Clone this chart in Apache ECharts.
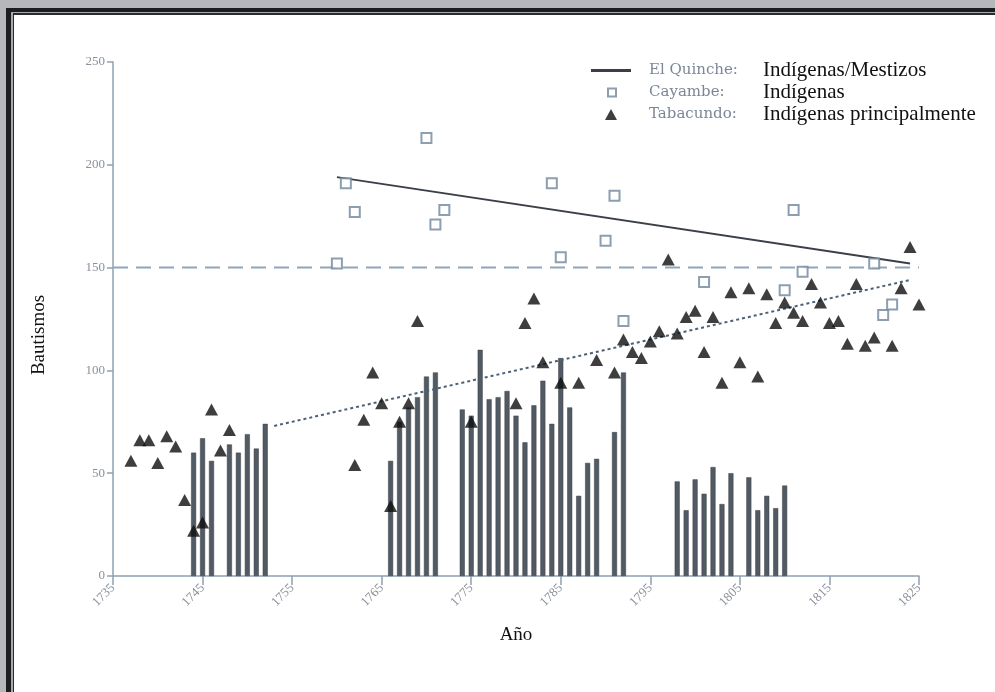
<!DOCTYPE html>
<html>
<head>
<meta charset="utf-8">
<script src="https://cdn.jsdelivr.net/npm/echarts@6/dist/echarts.min.js"></script>
<style>
html,body{margin:0;padding:0;background:#b6b7ba;}
#chart{width:995px;height:692px;}
</style>
</head>
<body>
<div id="chart"></div>
<script>
// ---- Data ----
const xTicks = [1735, 1745, 1755, 1765, 1775, 1785, 1795, 1805, 1815, 1825];
const yTicks = [0, 50, 100, 150, 200, 250];

// Bars (bautismos, series de barras)
const barYears  = [1744,1745,1746,1748,1749,1750,1751,1752,
                   1766,1767,1768,1769,1770,1771,
                   1774,1775,1776,1777,1778,1779,1780,1781,1782,1783,1784,1785,1786,1787,1788,1789,1791,1792,
                   1798,1799,1800,1801,1802,1803,1804,1806,1807,1808,1809,1810];
const barValues = [60,67,56,64,60,69,62,74,
                   56,75,82,87,97,99,
                   81,78,110,86,87,90,78,65,83,95,74,106,82,39,55,57,70,99,
                   46,32,47,40,53,35,50,48,32,39,33,44];

// Tabacundo (triángulos)
const tabYears  = [1737,1738,1739,1740,1741,1742,1743,1744,1745,1746,1747,1748,
                   1762,1763,1764,1765,1766,1767,1768,1769,
                   1775,1780,1781,1782,1783,1785,1787,1789,1791,1792,1793,1794,1795,1796,1797,
                   1798,1799,1800,1801,1802,1803,1804,1805,1806,1807,1808,1809,1810,1811,1812,
                   1813,1814,1815,1816,1817,1818,1819,1820,1822,1823,1824,1825];
const tabValues = [56,66,66,55,68,63,37,22,26,81,61,71,
                   54,76,99,84,34,75,84,124,
                   75,84,123,135,104,94,94,105,99,115,109,106,114,119,154,
                   118,126,129,109,126,94,138,104,140,97,137,123,133,128,124,
                   142,133,123,124,113,142,112,116,112,140,160,132];

// Cayambe (cuadrados)
const cayYears  = [1760,1761,1762,1770,1771,1772,1784,1785,1790,1791,1792,1801,1810,1811,1812,1820,1821,1822];
const cayValues = [152,191,177,213,171,178,191,155,163,185,124,143,139,178,148,152,127,132];

// El Quinche (línea de tendencia)
const quincheYears  = [1760, 1824];
const quincheValues = [194, 152];

// Tendencia Tabacundo (línea punteada)
const trendYears  = [1753, 1824];
const trendValues = [73, 144];

// Línea de referencia
const refYears = [1735, 1825];
const refValue = 150;

// Legend texts
const legendNames = ['El Quinche', 'Cayambe', 'Tabacundo'];
const legendTags  = ['El Quinche:', 'Cayambe:', 'Tabacundo:'];
const legendDesc  = ['Indígenas/Mestizos', 'Indígenas', 'Indígenas principalmente'];

const pair = (xs, ys) => xs.map((x, i) => [x, Array.isArray(ys) ? ys[i] : ys]);

const serif = "'Liberation Serif', 'DejaVu Serif', serif";
const wideSerif = "'DejaVu Serif', 'Liberation Serif', serif";

function makeLegend(idx, left, top, w, h, spacer, icon) {
  const lg = {
    orient: 'vertical',
    left: left,
    top: top,
    itemGap: 0,
    itemWidth: w,
    itemHeight: h,
    data: [legendNames[idx]],
    formatter: function () {
      return '{s|}{a|' + legendTags[idx] + '}{b|' + legendDesc[idx] + '}';
    },
    textStyle: {
      rich: {
        s: {width: spacer, lineHeight: 23},
        a: {fontFamily: wideSerif, fontSize: 15, color: '#7b8797', width: 114, lineHeight: 23},
        b: {fontFamily: serif, fontSize: 21, color: '#111111', lineHeight: 23}
      }
    }
  };
  if (icon) lg.icon = icon;
  return lg;
}

const chart = echarts.init(document.getElementById('chart'), null, {renderer: 'canvas'});
chart.setOption({
  backgroundColor: '#b6b7ba',
  animation: false,
  graphic: [
    {type: 'rect', z: -10, silent: true, shape: {x: 6, y: 8, width: 1200, height: 1000}, style: {fill: '#1d1d1f'}},
    {type: 'rect', z: -9, silent: true, shape: {x: 11, y: 12, width: 1200, height: 1000}, style: {fill: '#a8a9ac'}},
    {type: 'rect', z: -8, silent: true, shape: {x: 13, y: 13, width: 1200, height: 1000}, style: {fill: '#2a2a2c'}},
    {type: 'rect', z: -7, silent: true, shape: {x: 14, y: 15, width: 1200, height: 1000}, style: {fill: '#ffffff'}}
  ],
  grid: {left: 113, right: 76, top: 62, bottom: 116, containLabel: false},
  legend: [
    makeLegend(0, 586, 55, 40, 3, 13, 'rect'),
    makeLegend(1, 602, 77, 8, 8, 28, null),
    makeLegend(2, 600, 99, 12, 11, 27, null)
  ],
  xAxis: {
    type: 'value',
    min: 1735,
    max: 1825,
    name: 'Año',
    nameLocation: 'middle',
    nameGap: 50,
    nameTextStyle: {fontFamily: serif, fontSize: 19, color: '#111'},
    splitLine: {show: false},
    axisLine: {lineStyle: {color: '#8ea0b2', width: 1.5}},
    axisTick: {show: true, length: 9, customValues: xTicks, lineStyle: {color: '#8ea0b2', width: 1.5}},
    axisLabel: {
      customValues: xTicks,
      rotate: 45,
      margin: 10,
      fontFamily: serif,
      fontSize: 13,
      color: '#8b909a',
      formatter: v => String(v)
    }
  },
  yAxis: {
    type: 'value',
    min: 0,
    max: 250,
    interval: 50,
    name: 'Bautismos',
    nameLocation: 'middle',
    nameGap: 64,
    nameTextStyle: {fontFamily: serif, fontSize: 19, color: '#111', padding: [0, 32, 0, 0]},
    splitLine: {show: false},
    axisLine: {show: true, lineStyle: {color: '#8ea0b2', width: 1.5}},
    axisTick: {show: true, length: 6, lineStyle: {color: '#8ea0b2', width: 1.5}},
    axisLabel: {fontFamily: serif, fontSize: 13, color: '#8b909a', margin: 8, customValues: yTicks}
  },
  series: [
    {
      name: 'Bautismos',
      type: 'bar',
      barWidth: 5,
      data: pair(barYears, barValues),
      itemStyle: {color: '#525a64', borderColor: '#3a3f46', borderWidth: 0.5},
      z: 1
    },
    {
      name: 'Referencia',
      type: 'line',
      symbol: 'none',
      data: pair(refYears, refValue),
      lineStyle: {color: '#8fa6ba', width: 2, type: [15, 8]},
      z: 2
    },
    {
      name: 'Tendencia Tabacundo',
      type: 'line',
      symbol: 'none',
      data: pair(trendYears, trendValues),
      lineStyle: {color: '#4c6176', width: 2, type: [3, 3]},
      z: 3
    },
    {
      name: 'El Quinche',
      type: 'line',
      symbol: 'none',
      data: pair(quincheYears, quincheValues),
      lineStyle: {color: '#3b4048', width: 2},
      itemStyle: {color: '#3b4048'},
      z: 3
    },
    {
      name: 'Cayambe',
      type: 'scatter',
      symbol: 'emptyRect',
      symbolSize: 10,
      data: pair(cayYears, cayValues),
      itemStyle: {color: '#6f869c', borderWidth: 1.5},
      z: 4
    },
    {
      name: 'Tabacundo',
      type: 'scatter',
      symbol: 'triangle',
      symbolSize: [13, 12],
      data: pair(tabYears, tabValues),
      itemStyle: {color: '#0e0e0e'},
      clip: false,
      z: 5
    }
  ]
});
</script>
</body>
</html>
